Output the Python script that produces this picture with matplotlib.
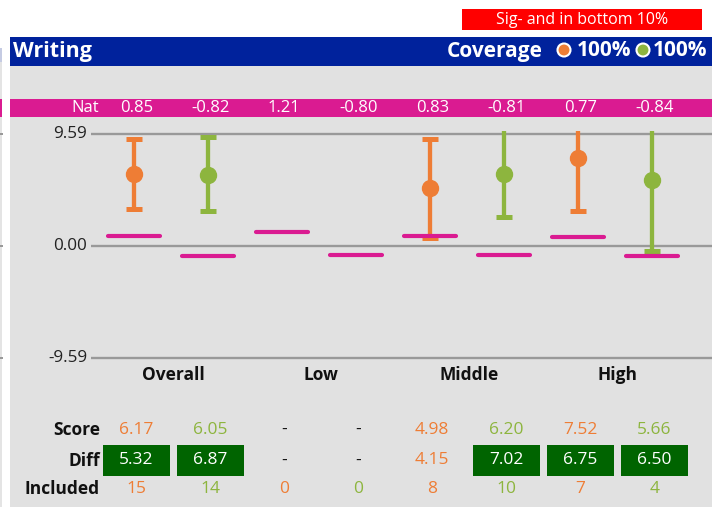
import matplotlib
matplotlib.use('Agg')
import matplotlib.pyplot as plt
from matplotlib.patches import Rectangle, Circle
from matplotlib.transforms import blended_transform_factory

plt.rcParams['font.family'] = ['Open Sans', 'DejaVu Sans']

# ---------------- data ----------------
title = "Writing"
badge = "Sig- and in bottom 10%"
coverage_label = "Coverage"
coverage = ["100%", "100%"]
groups = ["Overall", "Low", "Middle", "High"]
nat = [0.85, -0.82, 1.21, -0.80, 0.83, -0.81, 0.77, -0.84]
score = [6.17, 6.05, None, None, 4.98, 6.20, 7.52, 5.66]
lower = [3.17, 3.00, None, None, 0.68, 2.46, 2.97, -0.43]
upper = [9.16, 9.33, None, None, 9.13, 10.2, 12.0, 11.7]
diff = [5.32, 6.87, None, None, 4.15, 7.02, 6.75, 6.50]
diff_sig = [True, True, False, False, False, True, True, True]
included = [15, 14, 0, 0, 8, 10, 7, 4]
axis_ticks = [9.59, 0.00, -9.59]
row_labels = ["Score", "Diff", "Included"]

# ---------------- style ----------------
ORANGE = '#EE7D35'
GREEN = '#8DB53E'
PINK = '#DA1B91'
BLUE = '#00229C'
PANEL = '#E1E1E1'
GRID = '#999999'
DKGREEN = '#006400'
series_colors = [ORANGE, GREEN]
VAL_FS = 12.5
LAB_FS = 12.5

W, H = 712, 507
fig = plt.figure(figsize=(W / 100, H / 100), dpi=100)
fig.patch.set_facecolor('white')

bg = fig.add_axes([0, 0, 1, 1])
bg.set_xlim(0, W)
bg.set_ylim(H, 0)
bg.axis('off')

# panels
bg.add_patch(Rectangle((10, 66), W - 10, H - 66, color=PANEL, lw=0))
bg.add_patch(Rectangle((10, 37), W - 10, 29, color=BLUE, lw=0))
bg.add_patch(Rectangle((462, 9), 240, 21, color='#FF0000', lw=0))
bg.add_patch(Rectangle((10, 99), W - 10, 18, color=PINK, lw=0))
# sliver of neighbouring chart at left edge
bg.add_patch(Rectangle((0, 48), 1.5, 14, color='#C5CBE3', lw=0))
bg.add_patch(Rectangle((0, 62), 1.5, H - 62, color='#E4E4E4', lw=0))
bg.add_patch(Rectangle((0, 99), 1.5, 18, color=PINK, lw=0))
for yy in (134, 246, 358):
    bg.add_patch(Rectangle((0, yy - 1), 2.5, 2, color=GRID, lw=0))

bg.text(582, 19.5, badge, color='white', fontsize=11.5, ha='center', va='center')
bg.text(13, 51, title, color='white', fontsize=15.5, fontweight='bold', ha='left', va='center')
bg.text(543, 51, coverage_label, color='white', fontsize=15, fontweight='bold', ha='right', va='center')
for k, (cx, tx) in enumerate([(564, 577), (643, 653)]):
    bg.add_patch(Circle((cx, 50), 6.5, facecolor=series_colors[k], edgecolor='white', lw=1.5))
    bg.text(tx, 51, coverage[k], color='white', fontsize=15, fontweight='bold', ha='left', va='center')

# ---------------- main axes ----------------
x0 = 134.0
step = 74.0
ax = fig.add_axes([91 / W, (H - 361) / H, (W - 91) / W, 230 / H])
ax.set_xlim((91 - x0) / step, (W - x0) / step)
ax.set_ylim(-9.85, 9.85)
ax.axis('off')
ax.patch.set_alpha(0)

ylab_tr = blended_transform_factory(ax.transAxes, ax.transData)
for v in axis_ticks:
    ax.axhline(v, color=GRID, lw=1.7, zorder=1)
    ax.text(-0.006, v, f"{v:.2f}", transform=ylab_tr, ha='right', va='center',
            fontsize=12.3, color='#222222')

for i, s in enumerate(score):
    if s is None:
        continue
    c = series_colors[i % 2]
    ax.errorbar(i, s, yerr=[[s - lower[i]], [upper[i] - s]], fmt='o', color=c,
                ms=11.5, elinewidth=3.1, capsize=5.5, capthick=3.6, zorder=3)

for i, n in enumerate(nat):
    ax.plot([i - 0.355, i + 0.355], [n, n], color=PINK, lw=3,
            solid_capstyle='round', zorder=4)

# ---------------- text rows ----------------
tr = blended_transform_factory(ax.transData, bg.transData)
off = 0.03
bg.text(99, 108, "Nat", color='white', fontsize=12, ha='right', va='center')
for i, n in enumerate(nat):
    bg.text(i + off, 108, f"{n:.2f}", transform=tr, color='white', fontsize=12,
            ha='center', va='center')

for g, name in enumerate(groups):
    bg.text(2 * g + 0.5 + off, 375, name, transform=tr, fontsize=LAB_FS,
            fontweight='bold', ha='center', va='center', color='#111111')

row_y = [430, 460.5, 489]
for r, lab in enumerate(row_labels):
    bg.text(100, row_y[r], lab, fontsize=LAB_FS, fontweight='bold', ha='right',
            va='center', color='#111111')

for i in range(len(score)):
    c = series_colors[i % 2]
    s = score[i]
    bg.text(i + off, row_y[0], '-' if s is None else f"{s:.2f}", transform=tr,
            color='#111111' if s is None else c, fontsize=VAL_FS, ha='center', va='center')
    d = diff[i]
    if d is None:
        bg.text(i + off, row_y[1], '-', transform=tr, color='#111111', fontsize=VAL_FS,
                ha='center', va='center')
    elif diff_sig[i]:
        bg.add_patch(Rectangle((i + off - 0.45, 445), 0.9, 31, transform=tr,
                               color=DKGREEN, lw=0))
        bg.text(i + off, row_y[1], f"{d:.2f}", transform=tr, color='white',
                fontsize=VAL_FS, ha='center', va='center')
    else:
        bg.text(i + off, row_y[1], f"{d:.2f}", transform=tr, color=c,
                fontsize=VAL_FS, ha='center', va='center')
    bg.text(i + off, row_y[2], str(included[i]), transform=tr, color=c,
            fontsize=VAL_FS, ha='center', va='center')

fig.savefig('out.png', dpi=100, facecolor='white')
